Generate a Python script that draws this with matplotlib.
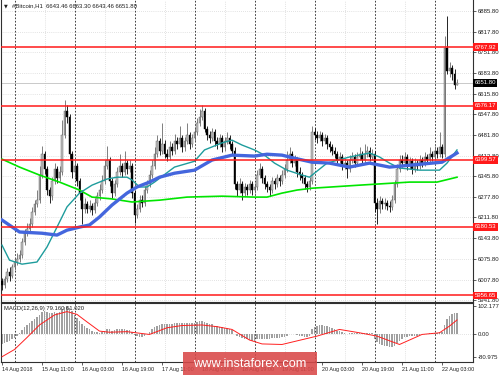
import matplotlib
matplotlib.use('Agg')
import matplotlib.pyplot as plt
import matplotlib.transforms as mtransforms
from matplotlib.patches import Rectangle
import numpy as np
import pandas as pd

plt.rcParams['font.family'] = ['Liberation Sans', 'DejaVu Sans']

# BTC H1, бары с 14 Aug 2018 19:00
first_open = 6005
closes = [
    5990, 6010, 6035, 6020, 6050, 6065, 6075, 6090, 6130, 6160,
    6175, 6190, 6230, 6255, 6270, 6350, 6420, 6370, 6300, 6280,
    6330, 6370, 6340, 6360, 6480, 6560, 6540, 6420, 6360, 6380,
    6330, 6290, 6240, 6255, 6240, 6250, 6235, 6260, 6280, 6300,
    6330, 6380, 6400, 6330, 6290, 6320, 6360, 6380, 6360, 6390,
    6370, 6380, 6290, 6220, 6240, 6270, 6260, 6300, 6320, 6350,
    6380, 6420, 6460, 6430, 6450, 6420, 6410, 6440, 6430, 6460,
    6450, 6470, 6440, 6460, 6480, 6450, 6470, 6490, 6520, 6540,
    6560, 6500, 6480, 6470, 6490, 6460, 6450, 6470, 6440, 6460,
    6470, 6450, 6430, 6320, 6300, 6320, 6290, 6310, 6300, 6320,
    6300, 6310, 6350, 6370, 6340, 6320, 6310, 6300, 6330, 6320,
    6340, 6330, 6350, 6370, 6400, 6420, 6390, 6400, 6360, 6350,
    6340, 6320, 6310, 6330, 6490, 6480, 6470, 6480, 6460, 6470,
    6450, 6440, 6430, 6420, 6400, 6410, 6380, 6390, 6370, 6400,
    6410, 6390, 6410, 6420, 6400, 6420, 6430, 6410, 6420, 6260,
    6240, 6265, 6255, 6260, 6250, 6245, 6270, 6320, 6370, 6400,
    6390, 6410, 6380, 6395, 6370, 6390, 6380, 6400, 6390, 6410,
    6400, 6420, 6410, 6430, 6420, 6440, 6420, 6765, 6690, 6700,
    6680, 6643.46, 6651.80]
highs = [
    6015, 6020, 6045, 6050, 6060, 6080, 6095, 6105, 6145, 6175,
    6195, 6210, 6245, 6270, 6300, 6380, 6445, 6430, 6380, 6310,
    6345, 6390, 6380, 6380, 6530, 6595, 6580, 6550, 6430, 6400,
    6390, 6340, 6300, 6275, 6265, 6270, 6260, 6275, 6295, 6320,
    6350, 6400, 6445, 6410, 6340, 6335, 6375, 6420, 6390, 6430,
    6400, 6400, 6390, 6300, 6255, 6285, 6285, 6315, 6335, 6365,
    6400, 6440, 6480, 6470, 6520, 6465, 6435, 6460, 6455, 6485,
    6475, 6510, 6480, 6475, 6520, 6490, 6485, 6505, 6535, 6565,
    6580, 6570, 6510, 6495, 6505, 6500, 6475, 6485, 6480, 6475,
    6490, 6480, 6460, 6440, 6330, 6340, 6330, 6325, 6320, 6335,
    6330, 6325, 6365, 6390, 6380, 6350, 6330, 6320, 6345, 6340,
    6355, 6350, 6365, 6385, 6430, 6440, 6430, 6415, 6410, 6375,
    6360, 6350, 6330, 6345, 6510, 6505, 6495, 6495, 6490, 6485,
    6480, 6460, 6450, 6440, 6430, 6425, 6420, 6405, 6400, 6415,
    6425, 6420, 6425, 6440, 6430, 6450, 6445, 6440, 6435, 6430,
    6275, 6280, 6275, 6275, 6270, 6265, 6285, 6335, 6385, 6415,
    6415, 6425, 6420, 6410, 6405, 6405, 6400, 6415, 6410, 6425,
    6420, 6440, 6430, 6445, 6440, 6490, 6450, 6805, 6870, 6720,
    6710, 6695, 6663.30]
lows = [
    5975, 5980, 6000, 6005, 6015, 6040, 6055, 6065, 6080, 6120,
    6150, 6165, 6180, 6220, 6245, 6260, 6340, 6355, 6285, 6260,
    6270, 6320, 6325, 6330, 6350, 6470, 6520, 6400, 6340, 6345,
    6315, 6270, 6190, 6225, 6225, 6230, 6220, 6225, 6250, 6270,
    6290, 6320, 6370, 6315, 6275, 6280, 6310, 6350, 6345, 6350,
    6355, 6360, 6275, 6195, 6210, 6230, 6245, 6250, 6290, 6310,
    6340, 6370, 6410, 6415, 6420, 6405, 6395, 6400, 6415, 6420,
    6435, 6440, 6425, 6430, 6450, 6435, 6440, 6460, 6480, 6510,
    6530, 6490, 6465, 6455, 6460, 6445, 6435, 6440, 6425, 6430,
    6450, 6435, 6415, 6305, 6280, 6290, 6270, 6280, 6285, 6290,
    6285, 6290, 6300, 6340, 6325, 6305, 6295, 6280, 6290, 6305,
    6310, 6315, 6320, 6340, 6360, 6390, 6375, 6380, 6345, 6335,
    6325, 6305, 6295, 6300, 6320, 6465, 6455, 6460, 6445, 6450,
    6435, 6425, 6415, 6405, 6385, 6390, 6365, 6370, 6340, 6360,
    6390, 6375, 6380, 6400, 6385, 6390, 6410, 6395, 6400, 6230,
    6190, 6225, 6240, 6240, 6235, 6230, 6235, 6260, 6310, 6360,
    6375, 6380, 6365, 6370, 6355, 6360, 6365, 6370, 6375, 6380,
    6385, 6390, 6395, 6400, 6405, 6410, 6405, 6410, 6680, 6670,
    6660, 6630, 6643.46]

# скользящие средние (бар, значение)
fast_bar = [0, 3, 8, 14, 18, 22, 26, 31, 36, 42, 46, 50, 52, 55, 58, 61, 69, 77,
            81, 88, 92, 96, 101, 105, 109, 114, 120, 123, 130, 139, 147, 151,
            155, 159, 167, 175, 178, 182]
fast_ma = [6121, 6072, 6059, 6066, 6115, 6180, 6246, 6291, 6317, 6337, 6343,
           6343, 6334, 6311, 6311, 6327, 6376, 6395, 6432, 6455, 6464, 6448,
           6432, 6415, 6389, 6366, 6350, 6343, 6389, 6409, 6422, 6409, 6389,
           6373, 6366, 6366, 6389, 6432]
mid_bar = [0, 7, 16, 22, 26, 31, 35, 39, 44, 50, 54, 59, 63, 69, 77, 84, 92,
           101, 106, 112, 117, 124, 131, 139, 147, 155, 163, 172, 176, 182]
mid_ma = [6203, 6164, 6160, 6154, 6170, 6180, 6187, 6213, 6252, 6291, 6311,
          6327, 6343, 6356, 6366, 6399, 6415, 6412, 6418, 6415, 6405, 6392,
          6389, 6376, 6389, 6376, 6382, 6389, 6392, 6422]
slow_bar = [0, 7, 15, 23, 31, 36, 44, 52, 63, 74, 88, 101, 106, 112, 118, 124,
            143, 163, 174, 182]
slow_ma = [6402, 6376, 6350, 6327, 6301, 6278, 6272, 6262, 6268, 6278, 6281,
           6278, 6278, 6291, 6301, 6307, 6317, 6327, 6327, 6343]

# MACD(12,26,9)
macd_main = [
    -35, -30, -26, -22, -18, -12, -5, 5, 15, 25,
    35, 42, 50, 56, 62, 70, 82, 85, 80, 76,
    78, 80, 78, 82, 92, 100, 102, 95, 85, 70,
    58, 48, 38, 30, 24, 18, 14, 10, 8, 6,
    8, 14, 20, 18, 14, 15, 18, 20, 18, 18,
    16, 15, 8, -2, -6, -8, -8, -4, 0, 8,
    18, 25, 32, 34, 38, 38, 36, 38, 38, 40,
    40, 42, 40, 40, 42, 40, 40, 42, 45, 48,
    50, 45, 42, 38, 36, 32, 30, 28, 25, 24,
    22, 20, 16, 2, -6, -10, -14, -16, -18, -20,
    -22, -22, -18, -16, -16, -16, -16, -16, -14, -14,
    -12, -12, -10, -8, -4, 0, 0, 0, -2, -4,
    -6, -8, -8, -6, 18, 28, 32, 34, 34, 32,
    30, 26, 22, 18, 14, 12, 8, 6, 2, 4,
    4, 4, 4, 5, 4, 5, 6, 5, 4, -18,
    -28, -34, -38, -40, -42, -44, -46, -40, -30, -22,
    -16, -10, -8, -6, -6, -4, -4, -2, 0, 2,
    2, 4, 4, 6, 6, 8, 8, 35, 55, 65,
    72, 76, 78]
signal_bar = [0, 5, 10, 15, 21, 26, 30, 34, 39, 43, 50, 59, 66, 72, 80, 86, 92,
              99, 104, 112, 126, 135, 143, 150, 159, 168, 175, 179, 182]
macd_signal = [-80, -54, -11, 34, 70, 82, 72, 45, 12, 8, 10, 0, 24, 32, 34, 28,
               18, -20, -34, -36, -6, 18, 6, -6, -36, 0, 6, 30, 52]

levels = [6767.92, 6576.17, 6399.57, 6180.53, 5956.65]
price_ticks = [6885.80, 6817.80, 6751.80, 6683.80, 6615.80, 6547.80, 6481.80,
               6413.80, 6345.80, 6277.80, 6211.80, 6143.80, 6075.80, 6007.80,
               5941.80]
macd_ticks = [102.177, 0.0, -80.975]
macd_tick_labels = ['102.177', '0.00', '-80.975']
last_price = 6651.80

n = len(closes)
times = pd.date_range('2018-08-14 19:00', periods=n, freq='h')
x = np.arange(n)
c = np.array(closes, dtype=float)
o = np.array([first_open] + closes[:-1], dtype=float)
h = np.array(highs, dtype=float)
l = np.array(lows, dtype=float)
up = c >= o

fig = plt.figure(figsize=(5, 3.75), dpi=100)
W, H = 500, 375
ax = fig.add_axes([1 / W, 1 - 302 / H, 472 / W, 302 / H])
ax2 = fig.add_axes([1 / W, 1 - 362 / H, 472 / W, 59 / H])

for a in (ax, ax2):
    a.set_xlim(-0.4, 188.4)
    for s in a.spines.values():
        s.set_color('#303030')
        s.set_linewidth(0.8)
ax.spines['top'].set_visible(False)
ax.set_ylim(5935.4, 6921.7)
ax2.set_ylim(-98.9, 112.9)

# сетка и разделители дней
grid_kw = dict(color='#c8c8c8', lw=0.5, ls=(0, (1, 2)), zorder=0)
for p in price_ticks:
    ax.axhline(p, **grid_kw)
ax2.axhline(0, **grid_kw)
for i, t in enumerate(times):
    if t.hour == 0:
        for a in (ax, ax2):
            a.axvline(i, color='#202020', lw=0.6, ls=(0, (2, 2)), zorder=0)
    elif t.hour == 12:
        for a in (ax, ax2):
            a.axvline(i, **grid_kw)

# свечи
ax.vlines(x[up], l[up], h[up], color='#6a6a6a', lw=0.6, zorder=2)
ax.vlines(x[~up], l[~up], h[~up], color='black', lw=0.6, zorder=2)
ax.bar(x[up], (c - o)[up], bottom=o[up], width=0.6, color='#c0c0c0',
       edgecolor='#5a5a5a', lw=0.3, zorder=3)
ax.bar(x[~up], (c - o)[~up], bottom=o[~up], width=0.6, color='black',
       edgecolor='black', lw=0.3, zorder=3)

ax.plot(slow_bar, slow_ma, color='#00e600', lw=1.2, zorder=4)
ax.plot(fast_bar, fast_ma, color='#1e9c9c', lw=1.0, zorder=4)
ax.plot(mid_bar, mid_ma, color='#4466dd', lw=2.4, zorder=5)

ax.axhline(last_price, color='#c0c0c0', lw=0.6, zorder=1)
for lv in levels:
    ax.axhline(lv, color='#ff1a1a', lw=1.1, zorder=6)

# правая шкала
ax.yaxis.tick_right()
ax.set_yticks(price_ticks)
ax.set_yticklabels([f'{p:.2f}' for p in price_ticks])
ax.tick_params(axis='y', labelsize=4.3, length=2, width=0.5, pad=1.5, colors='#202020')
ax.set_xticks([])

tr = mtransforms.blended_transform_factory(ax.transAxes, ax.transData)
for lv in levels:
    ax.text(1.003, lv, f'{lv:.2f}', transform=tr, fontsize=4.3, color='white',
            va='center', ha='left', zorder=7, clip_on=False,
            bbox=dict(boxstyle='square,pad=0.25', fc='#ff1a1a', ec='none'))
ax.text(1.003, last_price, f'{last_price:.2f}', transform=tr, fontsize=4.3,
        color='white', va='center', ha='left', zorder=7, clip_on=False,
        bbox=dict(boxstyle='square,pad=0.25', fc='black', ec='none'))

# MACD
ax2.bar(x, macd_main, width=0.45, color='#a0a0a0', zorder=2)
ax2.plot(signal_bar, macd_signal, color='#ff2020', lw=0.7, zorder=3)
ax2.yaxis.tick_right()
ax2.set_yticks(macd_ticks)
ax2.set_yticklabels(macd_tick_labels)
ax2.tick_params(axis='y', labelsize=4.3, length=2, width=0.5, pad=1.5, colors='#202020')
ax2.text(0.006, 0.95, 'MACD(12,26,9) 79.160 61.020', transform=ax2.transAxes,
         fontsize=4.2, va='top', ha='left', color='#202020')

date_pos = list(range(0, n, 16))
date_labels = [times[0].strftime('%d %b %Y')] + \
              [times[i].strftime('%d %b %H:%M') for i in date_pos[1:]]
ax2.set_xticks(date_pos)
ax2.set_xticklabels(date_labels)
ax2.tick_params(axis='x', labelsize=3.9, length=2, width=0.5, pad=1.5, colors='#202020')
for lbl in ax2.get_xticklabels():
    lbl.set_horizontalalignment('left')

# заголовок
fig.text(4 / W, 1 - 6 / H, '▼', fontsize=3.5, va='center', ha='left',
         family=['DejaVu Sans'], color='#202020')
fig.text(12 / W, 1 - 6 / H, '#Bitcoin,H1  6643.46 6663.30 6643.46 6651.80',
         fontsize=4.3, va='center', ha='left', color='#202020')

# водяной знак
fig.patches.append(Rectangle((183 / W, 0), 134 / W, 23 / H, transform=fig.transFigure,
                             fc='#d94848', alpha=0.88, ec='none', zorder=10))
fig.text(250 / W, 1 - 364 / H, 'www.instaforex.com', color='white', fontsize=9.2,
         ha='center', va='center', zorder=11)

fig.savefig('out.png', dpi=100)
